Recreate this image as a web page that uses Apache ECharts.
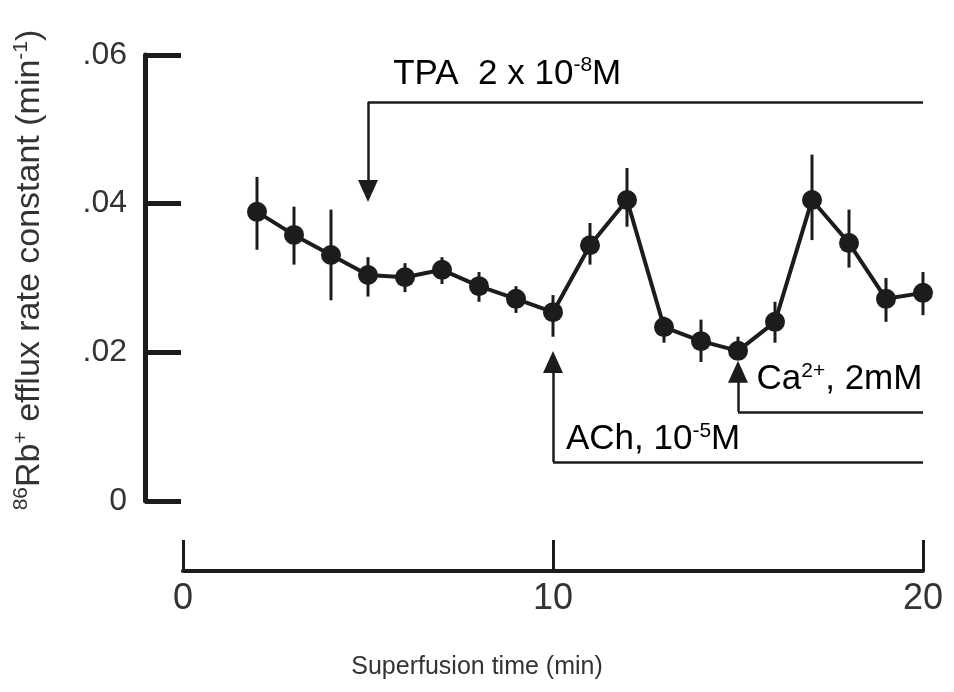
<!DOCTYPE html>
<html>
<head>
<meta charset="utf-8">
<script src="https://cdn.jsdelivr.net/npm/echarts@6/dist/echarts.min.js"></script>
<style>html,body{margin:0;padding:0;background:#fff;}#c{width:954px;height:692px;}</style>
</head>
<body>
<div id="c"></div>
<script>
// ---- data ----
const times = [2, 3, 4, 5, 6, 7, 8, 9, 10, 11, 12, 13, 14, 15, 16, 17, 18, 19, 20];
const meanValues  = [0.0389, 0.0358, 0.0331, 0.0304, 0.0301, 0.0311, 0.0289, 0.0272, 0.0254, 0.0344, 0.0405, 0.0234, 0.0215, 0.0202, 0.0241, 0.0405, 0.0347, 0.0272, 0.0280];
const upperValues = [0.0436, 0.0396, 0.0392, 0.0328, 0.0320, 0.0328, 0.0308, 0.0289, 0.0277, 0.0374, 0.0448, 0.0248, 0.0244, 0.0221, 0.0268, 0.0466, 0.0392, 0.0300, 0.0308];
const lowerValues = [0.0338, 0.0318, 0.0270, 0.0275, 0.0281, 0.0292, 0.0268, 0.0253, 0.0221, 0.0318, 0.0369, 0.0213, 0.0187, 0.0192, 0.0213, 0.0351, 0.0314, 0.0241, 0.0250];
const xTicks = [0, 10, 20];
const yTicks = [0, 0.02, 0.04, 0.06];
const yTickLabels = ['0', '.02', '.04', '.06'];
// treatment brackets (time, level)
const tpaPath = [[20, 0.0537], [5, 0.0537], [5, 0.0417]];
const achPath = [[20, 0.00525], [10, 0.00525], [10, 0.0187]];
const caPath  = [[20, 0.0120], [15, 0.0120], [15, 0.0174]];
const labelAnchors = [
  { t: 5.68, v: 0.0549, text: '{m|TPA  2 x 10}{s|-8}{m|M}' },
  { t: 10.35, v: 0.0057, text: '{m|ACh, 10}{s|-5}{m|M}' },
  { t: 15.5, v: 0.0138, text: '{m|Ca}{s|2+}{m|, 2mM}' }
];

const INK = '#1c1c1c';
const TXT = '#333';
const FONT = '"Liberation Sans", Arial, Helvetica, sans-serif';

const errData = times.map((t, i) => [t, lowerValues[i], upperValues[i]]);
const lineData = times.map((t, i) => [t, meanValues[i]]);

function bracket(path) {
  return [
    [{ coord: path[0], symbol: 'none' }, { coord: path[1], symbol: 'none' }],
    [{ coord: path[1], symbol: 'none' }, { coord: path[2], symbol: 'triangle', symbolSize: [20, 22] }]
  ];
}

const chart = echarts.init(document.getElementById('c'));
const richMain = {
  m: { fontSize: 35, fontFamily: FONT, color: TXT, lineHeight: 38 },
  s: { fontSize: 21, fontFamily: FONT, color: TXT, verticalAlign: 'top', lineHeight: 22 }
};
chart.setOption({
  animation: false,
  backgroundColor: '#fff',
  grid: { left: 183, right: 31, top: 55, bottom: 191 },
  xAxis: {
    type: 'value', min: 0, max: 20, interval: 10, offset: 70,
    axisLine: { show: true, onZero: false, lineStyle: { color: INK, width: 4 } },
    axisTick: { show: true, inside: true, length: 31, lineStyle: { color: INK, width: 3 } },
    axisLabel: { fontSize: 36, fontFamily: FONT, color: TXT, margin: 10,
      formatter: v => xTicks.indexOf(v) >= 0 ? String(v) : '' },
    splitLine: { show: false },
    name: 'Superfusion time (min)', nameLocation: 'middle', nameGap: 84,
    nameTextStyle: { fontSize: 25, fontFamily: FONT, color: TXT, padding: [0, 152, 0, 0] }
  },
  yAxis: {
    type: 'value', min: 0, max: 0.06, interval: 0.02, offset: 38,
    axisLine: { show: true, onZero: false, lineStyle: { color: INK, width: 5 } },
    axisTick: { show: true, inside: true, length: 36, lineStyle: { color: INK, width: 5 } },
    axisLabel: { fontSize: 32, fontFamily: FONT, color: TXT, margin: 18,
      formatter: v => { const k = yTicks.findIndex(y => Math.abs(y - v) < 1e-9); return k >= 0 ? yTickLabels[k] : ''; } },
    splitLine: { show: false },
    name: '{s|86}{m|Rb}{s|+}{m| efflux rate constant (min}{s|-1}{m|)}',
    nameLocation: 'middle', nameGap: 96,
    nameTextStyle: {
      padding: [0, 0, 0, 16],
      rich: {
        m: { fontSize: 34, fontFamily: FONT, color: TXT, lineHeight: 38 },
        s: { fontSize: 21, fontFamily: FONT, color: TXT, verticalAlign: 'top', lineHeight: 22 }
      }
    }
  },
  series: [
    {
      type: 'custom', data: errData, z: 2,
      renderItem: (params, api) => {
        const p1 = api.coord([api.value(0), api.value(1)]);
        const p2 = api.coord([api.value(0), api.value(2)]);
        return { type: 'line', shape: { x1: p1[0], y1: p1[1], x2: p2[0], y2: p2[1] },
          style: { stroke: INK, lineWidth: 3 } };
      }
    },
    {
      type: 'line', data: lineData, z: 3,
      symbol: 'circle', symbolSize: 20,
      lineStyle: { color: INK, width: 4 },
      itemStyle: { color: INK },
      markLine: {
        silent: true, animation: false,
        lineStyle: { color: INK, width: 2.5, type: 'solid' },
        label: { show: false },
        data: [].concat(bracket(tpaPath), bracket(achPath), bracket(caPath))
      }
    }
  ]
});

const graphics = labelAnchors.map(a => {
  const p = chart.convertToPixel({ gridIndex: 0 }, [a.t, a.v]);
  return { type: 'text', x: p[0], y: p[1], z: 10,
    style: { text: a.text, rich: richMain, verticalAlign: 'bottom', align: 'left' } };
});
chart.setOption({ graphic: graphics });
</script>
</body>
</html>
